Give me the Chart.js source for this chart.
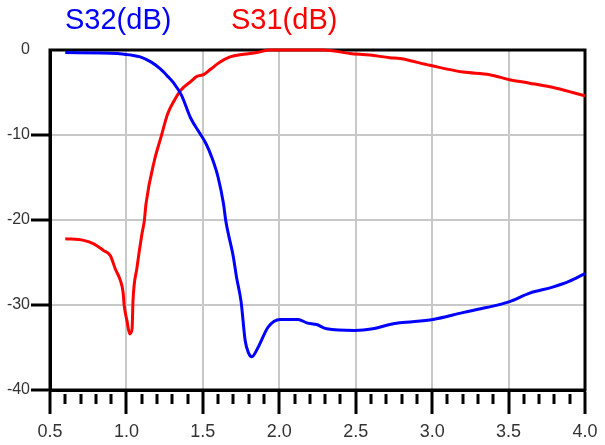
<!DOCTYPE html>
<html>
<head>
<meta charset="utf-8">
<script src="https://cdn.jsdelivr.net/npm/chart.js@4"></script>
<style>
html,body{margin:0;padding:0;background:#fff;}
#wrap{width:605px;height:445px;position:relative;}
</style>
</head>
<body>
<div id="wrap"><canvas id="c" width="605" height="445"></canvas></div>
<script>
// Series labels
const seriesLabels = ["S32(dB)", "S31(dB)"];
const seriesColors = ["#0000ff", "#ff0000"];

// S32 (blue)
const s32Freq = [0.6, 0.94, 1.03, 1.09, 1.16, 1.22, 1.27, 1.31, 1.36, 1.42, 1.48, 1.52, 1.56, 1.60, 1.635, 1.65, 1.70, 1.72, 1.75, 1.777, 1.798, 1.82, 1.861, 1.927, 2.005, 2.123, 2.18, 2.245, 2.31, 2.495, 2.612, 2.723, 2.789, 3.006, 3.2, 3.355, 3.507, 3.638, 3.788, 3.899, 4.0];
const s32dB   = [-0.3, -0.4, -0.6, -0.8, -1.4, -2.2, -3.1, -3.9, -5.3, -8.0, -9.8, -11.0, -12.7, -15.0, -18.1, -20.1, -24.4, -26.7, -29.6, -34.2, -35.6, -36.1, -35.0, -32.6, -31.7, -31.7, -32.1, -32.3, -32.8, -33.0, -32.8, -32.3, -32.1, -31.7, -30.9, -30.3, -29.6, -28.6, -27.9, -27.2, -26.3];

// S31 (red)
const s31Freq = [0.6, 0.72, 0.786, 0.851, 0.895, 0.928, 0.96, 0.978, 0.985, 1.004, 1.021, 1.037, 1.043, 1.069, 1.102, 1.117, 1.128, 1.183, 1.227, 1.27, 1.314, 1.357, 1.422, 1.461, 1.504, 1.548, 1.613, 1.678, 1.766, 1.853, 1.94, 2.288, 2.462, 2.593, 2.723, 2.789, 2.985, 3.202, 3.376, 3.507, 3.638, 3.812, 4.0];
const s31dB   = [-22.2, -22.4, -22.8, -23.6, -24.2, -25.8, -27.1, -28.5, -30.0, -31.9, -33.4, -32.8, -29.5, -25.6, -21.6, -20.1, -18.1, -13.0, -10.2, -7.5, -5.9, -4.7, -3.7, -3.1, -2.9, -2.3, -1.4, -0.8, -0.5, -0.3, 0, 0, -0.4, -0.6, -0.9, -1.0, -1.8, -2.6, -2.9, -3.5, -3.9, -4.5, -5.4];

// Axis settings
const xMin = 0.5, xMax = 4.0, xMajorStep = 0.5, xMinorStep = 0.1;
const yMin = -40, yMax = 0, yStep = 10;

const toPts = (xs, ys) => xs.map((x, i) => ({x: x, y: ys[i]}));

const framePlugin = {
  id: 'frame',
  beforeDatasetsDraw(chart) {
    const {ctx, chartArea: a} = chart;
    ctx.save();
    ctx.strokeStyle = '#000';
    ctx.lineWidth = 3;
    ctx.strokeRect(a.left, a.top, a.right - a.left, a.bottom - a.top);
    // minor x ticks
    const xs = chart.scales.x;
    const n = Math.round((xMax - xMin) / xMinorStep);
    for (let i = 0; i <= n; i++) {
      if (i % 5 === 0) continue;
      const v = xMin + i * xMinorStep;
      const px = Math.round(xs.getPixelForValue(v));
      ctx.beginPath();
      ctx.moveTo(px, a.bottom + 4);
      ctx.lineTo(px, a.bottom + 14);
      ctx.stroke();
    }
    ctx.restore();
  },
  afterDraw(chart) {
    const ctx = chart.ctx;
    ctx.save();
    ctx.font = '29px "Liberation Sans", Arial, sans-serif';
    ctx.textBaseline = 'middle';
    ctx.textAlign = 'left';
    const pos = [65, 231];
    seriesLabels.forEach((t, i) => {
      ctx.fillStyle = seriesColors[i];
      ctx.fillText(t, pos[i], 21);
    });
    ctx.restore();
  }
};

new Chart(document.getElementById('c'), {
  type: 'line',
  data: {
    datasets: [
      {label: seriesLabels[0], data: toPts(s32Freq, s32dB), borderColor: seriesColors[0], borderWidth: 3, pointRadius: 0, cubicInterpolationMode: 'monotone', fill: false, clip: 6},
      {label: seriesLabels[1], data: toPts(s31Freq, s31dB), borderColor: seriesColors[1], borderWidth: 3, pointRadius: 0, cubicInterpolationMode: 'monotone', fill: false, clip: 6}
    ]
  },
  options: {
    responsive: false,
    animation: false,
    events: [],
    layout: {padding: {top: 50, right: 20, left: 0, bottom: 0}},
    plugins: {legend: {display: false}, tooltip: {enabled: false}},
    scales: {
      x: {
        type: 'linear', min: xMin, max: xMax,
        afterFit(s) { s.height = 55; },
        ticks: {stepSize: xMajorStep, color: '#333', padding: 7,
          font: {family: '"Liberation Sans", Arial, sans-serif', size: 18},
          callback: v => v.toFixed(1), maxRotation: 0, autoSkip: false},
        grid: {color: '#c8c8c8', lineWidth: 2, tickColor: '#000', tickWidth: 3, tickLength: 24, drawTicks: true},
        border: {color: '#000', width: 3}
      },
      y: {
        type: 'linear', min: yMin, max: yMax,
        afterFit(s) { s.width = 50; },
        ticks: {stepSize: yStep, color: '#333', padding: 1,
          font: {family: '"Liberation Sans", Arial, sans-serif', size: 16}},
        grid: {color: '#c8c8c8', lineWidth: 2,
          tickColor: c => (c.tick && c.tick.value === 0 ? 'rgba(0,0,0,0)' : '#000'),
          tickWidth: 3, tickLength: 19},
        border: {color: '#000', width: 3}
      }
    }
  },
  plugins: [framePlugin]
});
</script>
</body>
</html>
